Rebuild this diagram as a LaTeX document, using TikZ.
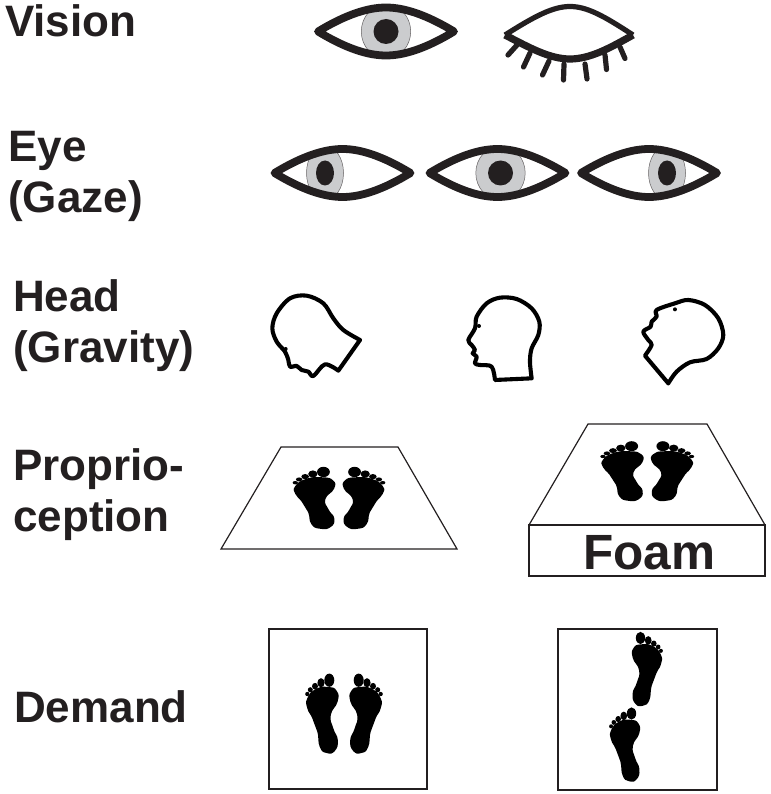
\documentclass[tikz,border=0pt]{standalone}
\usepackage{fontspec}
\setmainfont{Liberation Sans}
\definecolor{ink}{HTML}{231F20}
\definecolor{iris}{HTML}{CBCCCE}
\tikzset{
  rowlabel/.style={font=\bfseries\fontsize{44}{51}\selectfont,text=ink,inner sep=0pt,align=left},
  eyelid/.style={draw=ink,line width=7.8pt,line join=round},
  lash/.style={draw=ink,line width=5.2pt,line cap=round},
  headline/.style={draw=black,line width=4.1pt,line join=round,line cap=round},
  mat/.style={draw=ink,line width=1.2pt,line join=miter},
}
% centre x, centre y, iris offset, iris rx, pupil rx
\newcommand{\eyeicon}[5]{%
  \begin{scope}[shift={(#1,#2)}]
    \begin{scope}
      \clip (-68,0) .. controls (-40,-17) and (-18,-24) .. (0,-24) .. controls (18,-24) and (40,-17) .. (68,0)
         .. controls (40,17) and (18,24) .. (0,24) .. controls (-18,24) and (-40,17) .. (-68,0) -- cycle;
      \draw[fill=iris,draw=ink!70,line width=.5pt] (#3,0) ellipse [x radius=#4,y radius=27];
    \end{scope}
    \fill[ink] (#3,0) ellipse [x radius=#5,y radius=12.5];
    \draw[eyelid] (-68,0) .. controls (-40,-17) and (-18,-24) .. (0,-24) .. controls (18,-24) and (40,-17) .. (68,0)
         .. controls (40,17) and (18,24) .. (0,24) .. controls (-18,24) and (-40,17) .. (-68,0) -- cycle;
  \end{scope}}
% foot with big toe on the right; origin near mid-foot
\newcommand{\footicon}[4]{%
  \begin{scope}[shift={(#1,#2)},xscale=#3,yscale=#4]
    \fill[black] plot[smooth cycle,tension=.9] coordinates {
      (-15,-21.7) (-6.5,-31) (6,-33) (14.5,-29) (15.3,-18.3) (8.5,-5) (11,8.3) (15.5,20) (12.5,31) (4.3,33) (-2.5,27) (-5,11.7) (-10,-1.7) (-15,-11.7)};
    \fill[black] (7,-39.8) ellipse [x radius=5,y radius=6.6];
    \fill[black] (-1.3,-37.2) ellipse [x radius=3.6,y radius=4.6];
    \fill[black] (-7.3,-33.8) ellipse [x radius=3,y radius=3.3];
    \fill[black] (-12,-30.2) ellipse [x radius=2.5,y radius=2.6];
    \fill[black] (-15,-26) ellipse [x radius=2.1,y radius=2.2];
  \end{scope}}
\begin{document}
\begin{tikzpicture}[x=1pt,y=-1pt]
\useasboundingbox (0,0) rectangle (770,794);
% labels
\node[rowlabel,anchor=base west] (vision) at (5,37) {Vision};
\node[rowlabel,anchor=west] (eye) at (8,176.5) {Eye\\(Gaze)};
\node[rowlabel,anchor=west] (head) at (13,326) {Head\\(Gravity)};
\node[rowlabel,anchor=west] (prop) at (13,495) {Proprio-\\ception};
\node[rowlabel,anchor=base west] (demand) at (14,722) {Demand};
% vision row
\eyeicon{386}{31.5}{0}{24.7}{12.5}
\draw[draw=ink,line width=5.2pt,line join=round] (505,35) .. controls (535,16) and (553,6.5) .. (570,6.5) .. controls (587,6.5) and (604,16) .. (633,35);
\draw[draw=ink,line width=7.2pt,line join=round] (505,35) .. controls (530,48) and (550,59) .. (570,59) .. controls (590,59) and (610,48) .. (633,35);
\draw[lash] (517,45) -- (508,55);
\draw[lash] (530,53) -- (523.5,67);
\draw[lash] (549,61) -- (542.5,75);
\draw[lash] (564,64) -- (563.5,80);
\draw[lash] (585,64) -- (587,79);
\draw[lash] (605,55) -- (606.5,69.5);
\draw[lash] (620,47) -- (625,58.5);
% gaze row
\eyeicon{342.5}{173}{-17.5}{18.5}{9}
\eyeicon{497.5}{173}{3}{24.7}{12.5}
\eyeicon{649}{173}{18}{18.5}{9}
% heads
\begin{scope}[shift={(260,285)},x=.3333pt,y=-.3333pt]
  \draw[headline] plot[smooth,tension=.55] coordinates {(300,165) (250,135) (220,100) (190,55) (140,32) (90,40) (50,85) (37,130) (50,170) (75,200) (85,225) (90,245) (110,243) (125,255) (145,260) (160,273) (195,238) (235,257)} -- (300,165);
  \fill (77,192) circle [radius=6];
  \draw[headline] plot[smooth,tension=.55] coordinates {(815,280) (810,230) (815,190) (835,150) (838,110) (815,70) (770,42) (720,38) (680,55) (650,95) (645,130) (625,165) (635,180) (645,195) (638,205) (650,215) (645,235) (660,240) (695,245) (705,285)} -- (815,280);
  \fill (657,123) circle [radius=6];
  \draw[headline] plot[smooth,tension=.55] coordinates {(1225,295) (1250,260) (1290,232) (1340,222) (1375,190) (1390,150) (1375,100) (1335,60) (1285,45) (1245,55) (1190,75) (1190,95) (1175,110) (1172,125) (1150,140) (1165,165) (1175,180) (1155,212)} -- (1225,295);
  \fill (1245,73) circle [radius=6];
\end{scope}
% proprioception
\draw[mat] (221,549) -- (457,549) -- (398,447) -- (281,447) -- cycle;
\footicon{314.5}{503}{1.28}{.78}
\footicon{363.5}{503}{-1.28}{.78}
\draw[mat] (529,525) -- (765,525) -- (707,424) -- (588,424) -- cycle;
\draw[mat] (529,525) rectangle (765,576);
\node[font=\bfseries\fontsize{49.5}{50}\selectfont,text=ink,inner sep=0pt,anchor=base] (foam) at (649,569) {Foam};
\footicon{622.5}{476}{1.3}{.75}
\footicon{672}{476}{-1.3}{.75}
% demand
\draw[mat] (269,629) rectangle (427,789);
\draw[mat] (558,629) rectangle (717,790);
\footicon{322.3}{720}{1}{1}
\footicon{365.7}{720}{-1}{1}
\footicon{647}{675}{-.93}{.93}
\footicon{625}{750.5}{.93}{.93}
\end{tikzpicture}
\end{document}
